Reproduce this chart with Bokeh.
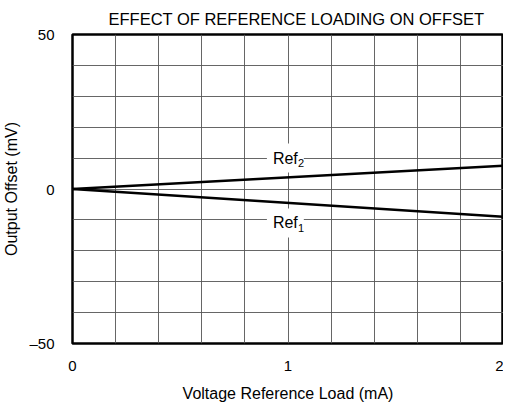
from bokeh.plotting import figure
from bokeh.models import Range1d, FixedTicker, Label
from bokeh.embed import file_html
from bokeh.resources import INLINE

# data
load_ma = [0.0, 2.0]
ref1_mv = [0.0, -9.0]
ref2_mv = [0.0, 7.5]
x_ticks = [0, 1, 2]
y_ticks = [-50, 0, 50]
y_tick_labels = {-50: "\u201350", 0: "0", 50: "50"}
x_grid = [0.2, 0.4, 0.6, 0.8, 1.0, 1.2, 1.4, 1.6, 1.8]
y_grid = [-40, -30, -20, -10, 0, 10, 20, 30, 40]
labels = [("Ref", "2", 0.93, 10.0), ("Ref", "1", 0.93, -11.0)]

FONT = "Liberation Sans"

p = figure(width=503, height=404, output_backend="svg", toolbar_location=None,
           x_range=Range1d(0, 2), y_range=Range1d(-50, 50),
           title="EFFECT OF REFERENCE LOADING ON OFFSET",
           min_border_left=63, min_border_right=0, min_border_top=0, min_border_bottom=40,
           border_fill_color="white")

p.title.align = "left"
p.title.text_font = FONT
p.title.text_font_size = "16.5px"
p.title.text_font_style = "normal"
p.title.text_color = "black"
p.title.standoff = 14
p.title.offset = 36

p.outline_line_color = "black"
p.outline_line_width = 2.5
p.outline_line_alpha = 1.0

for ax in (p.xaxis[0], p.yaxis[0]):
    ax.axis_line_color = None
    ax.major_tick_line_color = None
    ax.minor_tick_line_color = None
    ax.major_label_text_font = FONT
    ax.major_label_text_font_size = "15px"
    ax.major_label_text_color = "black"
    ax.axis_label_text_font = FONT
    ax.axis_label_text_font_size = "16px"
    ax.axis_label_text_font_style = "normal"
    ax.axis_label_text_color = "black"

p.xaxis.ticker = FixedTicker(ticks=x_ticks)
p.yaxis.ticker = FixedTicker(ticks=y_ticks)
p.yaxis.major_label_overrides = y_tick_labels
p.xaxis.axis_label = "Voltage Reference Load (mA)"
p.yaxis.axis_label = "Output Offset (mV)"
p.xaxis.major_label_standoff = 11
p.xaxis.axis_label_standoff = 11
p.yaxis.major_label_standoff = 12
p.yaxis.axis_label_standoff = 6

p.xgrid.ticker = FixedTicker(ticks=x_grid)
p.ygrid.ticker = FixedTicker(ticks=y_grid)
for g in (p.xgrid[0], p.ygrid[0]):
    g.grid_line_color = "#555555"
    g.grid_line_width = 1
    g.grid_line_alpha = 0.9

p.line(load_ma, ref1_mv, line_color="black", line_width=2.5)
p.line(load_ma, ref2_mv, line_color="black", line_width=2.5)

for main, sub, lx, ly in labels:
    p.add_layout(Label(x=lx, y=ly, text=main, text_font=FONT, text_font_size="16px",
                       text_color="black", text_align="left", text_baseline="middle",
                       background_fill_color="white", background_fill_alpha=1.0,
                       x_offset=-6, padding=6))
    p.add_layout(Label(x=lx, y=ly, text=sub, text_font=FONT, text_font_size="11px",
                       text_color="black", text_align="left", text_baseline="middle",
                       x_offset=25, y_offset=-5))

open("out.html", "w").write(file_html(p, INLINE))
